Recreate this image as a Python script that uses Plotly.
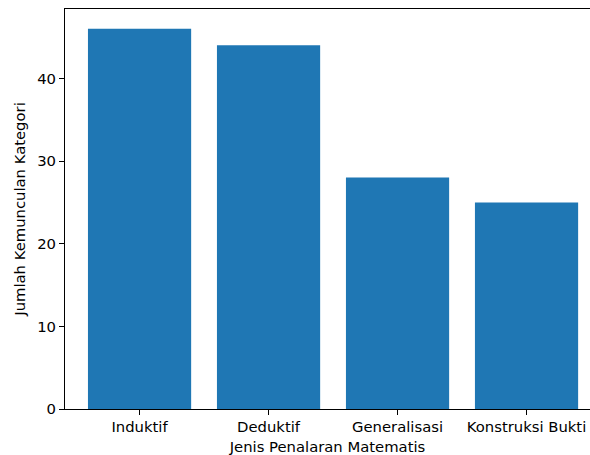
import plotly.graph_objects as go

categories = ["Induktif", "Deduktif", "Generalisasi", "Konstruksi Bukti"]
values = [46, 44, 28, 25]
y_ticks = [0, 10, 20, 30, 40]

fig = go.Figure(go.Bar(x=list(range(len(categories))), y=values, width=0.8,
                       marker=dict(color="#1f77b4", line=dict(width=0))))

fs = 14.8
font = dict(family="DejaVu Sans", size=fs, color="black")
fig.update_layout(
    width=590, height=455,
    margin=dict(l=65, r=0, t=9, b=46),
    paper_bgcolor="white", plot_bgcolor="white",
    font=font, showlegend=False,
)
fig.update_xaxes(
    range=[-0.578, 3.492], tickvals=list(range(len(categories))), ticktext=categories,
    showline=True, mirror=True, linecolor="black", linewidth=1,
    ticks="outside", ticklen=5, tickcolor="black", showgrid=False, zeroline=False,
    ticklabelstandoff=-1,
    tickfont=dict(family="DejaVu Sans", size=fs, color="black"),
    title=dict(text="Jenis Penalaran Matematis", standoff=7,
               font=dict(family="DejaVu Sans", size=fs, color="black")),
    automargin=False,
)
fig.update_yaxes(
    range=[0, 48.4], tickvals=y_ticks,
    showline=True, mirror=False, linecolor="black", linewidth=1,
    ticks="outside", ticklen=5, tickcolor="black", showgrid=False, zeroline=False,
    tickfont=dict(family="DejaVu Sans", size=fs, color="black"),
    title=dict(text="Jumlah Kemunculan Kategori", standoff=8,
               font=dict(family="DejaVu Sans", size=fs, color="black")),
    automargin=False,
)
fig.write_html("out.html")
